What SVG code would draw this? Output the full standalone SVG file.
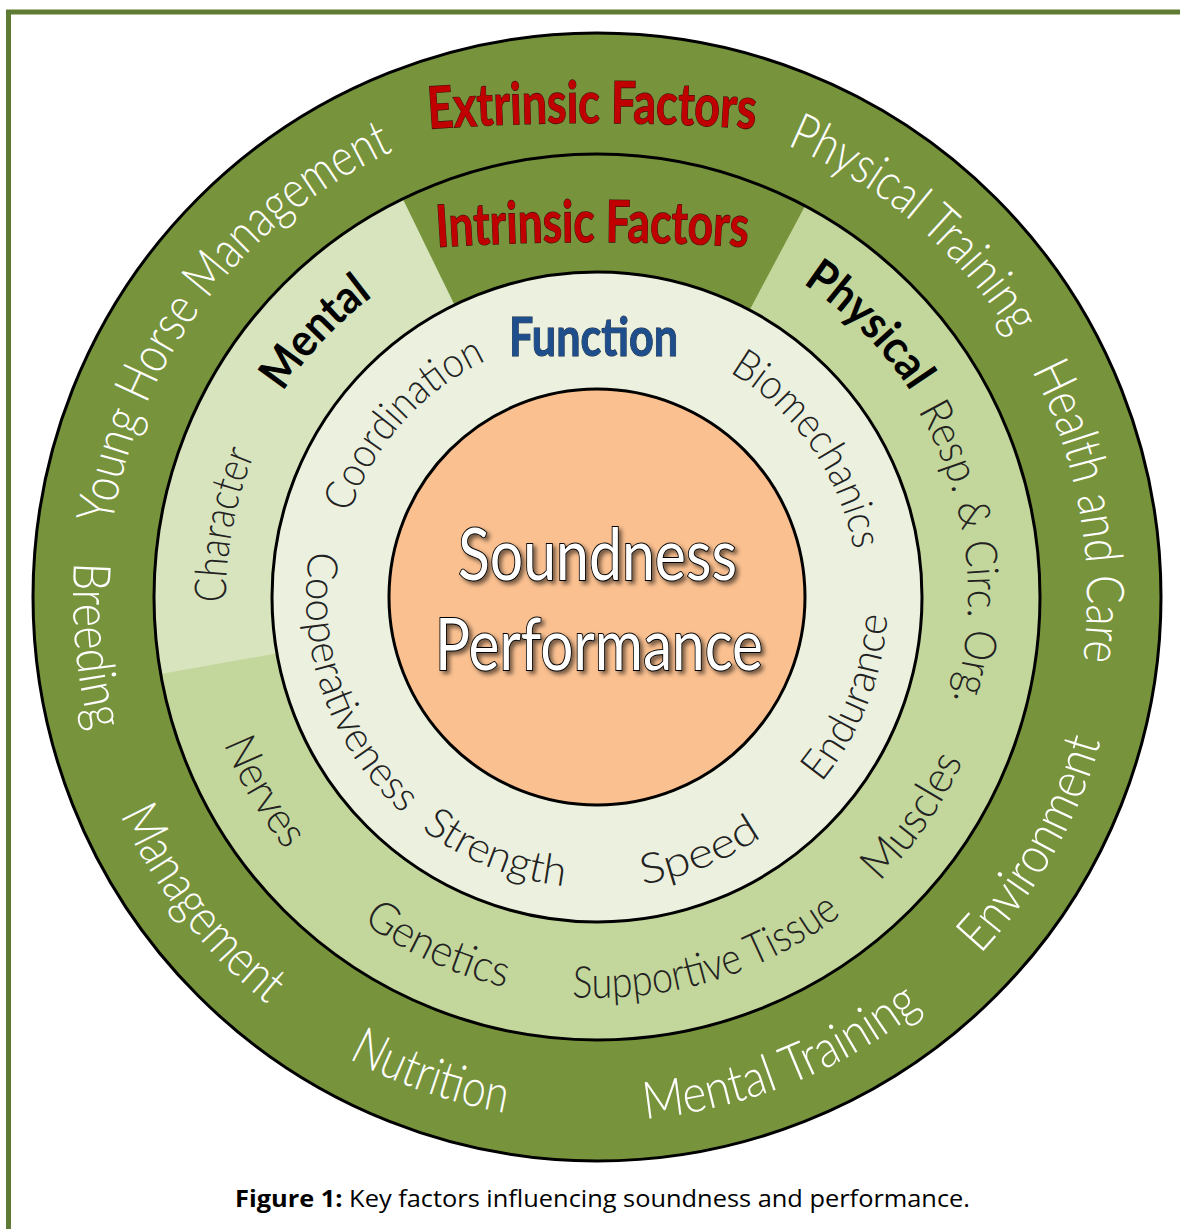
<svg xmlns="http://www.w3.org/2000/svg" xmlns:xlink="http://www.w3.org/1999/xlink" width="1180" height="1229" viewBox="0 0 1180 1229">
<style>
.ring{stroke:#000;stroke-width:3}
.outer{font-family:Lato,"Open Sans","DejaVu Sans",sans-serif;font-weight:300;font-size:52px;fill:#ffffff}
.thin{font-family:Lato,"Open Sans","DejaVu Sans",sans-serif;font-weight:300;font-size:44px;fill:#222222}
.fn{font-family:Lato,"Open Sans","DejaVu Sans",sans-serif;font-weight:300;font-size:42px;fill:#222222}
.bold{font-family:Lato,"Open Sans","DejaVu Sans",sans-serif;font-weight:700;font-size:46px;fill:#000000}
.title{font-family:Lato,"Open Sans","DejaVu Sans",sans-serif;font-weight:700;font-size:58px;fill:#c00000;stroke:#3a0c0c;stroke-width:1.2;paint-order:stroke}
.core{font-family:Lato,"Open Sans","DejaVu Sans",sans-serif;font-weight:400;font-size:72px;fill:#ffffff;stroke:#000;stroke-width:2;paint-order:stroke;filter:url(#sh)}
.cap{font-family:"Open Sans","Liberation Sans",sans-serif;font-size:23px;fill:#000}
</style>
<defs>
<filter id="sh" x="-10%" y="-20%" width="130%" height="150%"><feDropShadow dx="3" dy="3" stdDeviation="2" flood-color="#000" flood-opacity="0.55"/></filter>
<path id="t490" d="M108.86,554.29 A490,490 0 0 1 1085.14,554.29"/>
<path id="b524" d="M74.99,642.67 A524,524 0 0 0 1119.01,642.67"/>
<path id="t371" d="M227.41,564.66 A371,371 0 0 1 966.59,564.66"/>
<path id="t375" d="M223.43,564.32 A375,375 0 0 1 970.57,564.32"/>
<path id="b401" d="M197.53,631.95 A401,401 0 0 0 996.47,631.95"/>
<path id="t261" d="M336.99,574.25 A261,261 0 0 1 857.01,574.25"/>
<path id="b291" d="M307.11,622.36 A291,291 0 0 0 886.89,622.36"/>
<path id="extArc" d="M380,133 A2241,2241 0 0 1 804,133"/>
<path id="intArc" d="M392,250.4 A2400,2400 0 0 1 793,250.4"/>
</defs>
<rect x="0" y="0" width="1180" height="1229" fill="#ffffff"/>
<rect id="frame" x="8.5" y="12" width="1200" height="1260" fill="none" stroke="#5f7a32" stroke-width="5"/>

<g id="extrinsic-ring">
<circle class="ring" cx="597" cy="597" r="564" fill="#77933c"/>
</g>
<g id="intrinsic-ring">
<circle cx="597" cy="597" r="443" fill="#c3d69b"/>
<path d="M597,597 L160.7,673.9 A443,443 0 0 1 402.8,198.8 Z" fill="#d7e4bd"/>
<path d="M597,597 L402.8,198.8 A443,443 0 0 1 805,205.9 Z" fill="#77933c"/>
<circle class="ring" cx="597" cy="597" r="443" fill="none"/>
</g>
<g id="function-ring">
<circle class="ring" cx="597" cy="597" r="325" fill="#ebf1de"/>
</g>
<g id="core">
<circle class="ring" cx="597" cy="597" r="208" fill="#fac090"/>
<text class="core" x="597.5" y="580" text-anchor="middle" textLength="279" lengthAdjust="spacingAndGlyphs">Soundness</text>
<text class="core" x="599" y="670" text-anchor="middle" textLength="328" lengthAdjust="spacingAndGlyphs">Performance</text>
</g>

<g id="extrinsic-labels">
<text class="title"><textPath href="#extArc" xlink:href="#extArc" startOffset="50%" text-anchor="middle" textLength="327" lengthAdjust="spacingAndGlyphs">Extrinsic Factors</textPath></text>
<text class="outer" transform="rotate(-53 597 597)"><textPath href="#t490" xlink:href="#t490" startOffset="50%" text-anchor="middle" textLength="487" lengthAdjust="spacingAndGlyphs">Young Horse Management</textPath></text>
<text class="outer" transform="rotate(40.3 597 597)"><textPath href="#t490" xlink:href="#t490" startOffset="50%" text-anchor="middle" textLength="300" lengthAdjust="spacingAndGlyphs">Physical Training</textPath></text>
<text class="outer" transform="rotate(80 597 597)"><textPath href="#t490" xlink:href="#t490" startOffset="50%" text-anchor="middle" textLength="300" lengthAdjust="spacingAndGlyphs">Health and Care</textPath></text>
<text class="outer" transform="rotate(-60.5 597 597)"><textPath href="#b524" xlink:href="#b524" startOffset="50%" text-anchor="middle" textLength="247" lengthAdjust="spacingAndGlyphs">Environment</textPath></text>
<text class="outer" transform="rotate(-21.8 597 597)"><textPath href="#b524" xlink:href="#b524" startOffset="50%" text-anchor="middle" textLength="303" lengthAdjust="spacingAndGlyphs">Mental Training</textPath></text>
<text class="outer" transform="rotate(19.2 597 597)"><textPath href="#b524" xlink:href="#b524" startOffset="50%" text-anchor="middle" textLength="167" lengthAdjust="spacingAndGlyphs">Nutrition</textPath></text>
<text class="outer" transform="rotate(52.2 597 597)"><textPath href="#b524" xlink:href="#b524" startOffset="50%" text-anchor="middle" textLength="242" lengthAdjust="spacingAndGlyphs">Management</textPath></text>
<text class="outer" transform="rotate(84.5 597 597)"><textPath href="#b524" xlink:href="#b524" startOffset="50%" text-anchor="middle" textLength="171" lengthAdjust="spacingAndGlyphs">Breeding</textPath></text>
</g>

<g id="intrinsic-labels">
<text class="title"><textPath href="#intArc" xlink:href="#intArc" startOffset="50%" text-anchor="middle" textLength="311" lengthAdjust="spacingAndGlyphs">Intrinsic Factors</textPath></text>
<text class="bold" transform="rotate(-46.8 597 597)"><textPath href="#t375" xlink:href="#t375" startOffset="50%" text-anchor="middle" textLength="132" lengthAdjust="spacingAndGlyphs">Mental</textPath></text>
<text class="bold" transform="rotate(45 597 597)"><textPath href="#t375" xlink:href="#t375" startOffset="50%" text-anchor="middle" textLength="154" lengthAdjust="spacingAndGlyphs">Physical</textPath></text>
<text class="thin" transform="rotate(-79.1 597 597)"><textPath href="#t371" xlink:href="#t371" startOffset="50%" text-anchor="middle" textLength="152" lengthAdjust="spacingAndGlyphs">Character</textPath></text>
<text class="thin" transform="rotate(83 597 597)"><textPath href="#t371" xlink:href="#t371" startOffset="50%" text-anchor="middle" textLength="300" lengthAdjust="spacingAndGlyphs">Resp. &amp; Circ. Org.</textPath></text>
<text class="thin" transform="rotate(59.7 597 597)"><textPath href="#b401" xlink:href="#b401" startOffset="50%" text-anchor="middle" textLength="124" lengthAdjust="spacingAndGlyphs">Nerves</textPath></text>
<text class="thin" transform="rotate(24.5 597 597)"><textPath href="#b401" xlink:href="#b401" startOffset="50%" text-anchor="middle" textLength="158" lengthAdjust="spacingAndGlyphs">Genetics</textPath></text>
<text class="thin" transform="rotate(-17 597 597)"><textPath href="#b401" xlink:href="#b401" startOffset="50%" text-anchor="middle" textLength="288" lengthAdjust="spacingAndGlyphs">Supportive Tissue</textPath></text>
<text class="thin" transform="rotate(-55.3 597 597)"><textPath href="#b401" xlink:href="#b401" startOffset="50%" text-anchor="middle" textLength="148" lengthAdjust="spacingAndGlyphs">Muscles</textPath></text>
</g>

<g id="function-labels">
<text x="593.5" y="356" text-anchor="middle" textLength="169" lengthAdjust="spacingAndGlyphs" style="font-family:Lato,'Open Sans','DejaVu Sans',sans-serif;font-weight:700;font-size:54px;fill:#1f4e8c;stroke:#0e1f38;stroke-width:1;paint-order:stroke">Function</text>
<text class="fn" transform="rotate(-48.2 597 597)"><textPath href="#t261" xlink:href="#t261" startOffset="50%" text-anchor="middle" textLength="210" lengthAdjust="spacingAndGlyphs">Coordination</textPath></text>
<text class="fn" transform="rotate(55 597 597)"><textPath href="#t261" xlink:href="#t261" startOffset="50%" text-anchor="middle" textLength="224" lengthAdjust="spacingAndGlyphs">Biomechanics</textPath></text>
<text class="fn" transform="rotate(70.5 597 597)"><textPath href="#b291" xlink:href="#b291" startOffset="50%" text-anchor="middle" textLength="291" lengthAdjust="spacingAndGlyphs">Cooperativeness</textPath></text>
<text class="fn" transform="rotate(21.8 597 597)"><textPath href="#b291" xlink:href="#b291" startOffset="50%" text-anchor="middle" textLength="156" lengthAdjust="spacingAndGlyphs">Strength</textPath></text>
<text class="fn" transform="rotate(-21.8 597 597)"><textPath href="#b291" xlink:href="#b291" startOffset="50%" text-anchor="middle" textLength="130" lengthAdjust="spacingAndGlyphs">Speed</textPath></text>
<text class="fn" transform="rotate(-68.4 597 597)"><textPath href="#b291" xlink:href="#b291" startOffset="50%" text-anchor="middle" textLength="183" lengthAdjust="spacingAndGlyphs">Endurance</textPath></text>
</g>

<g id="caption">
<text class="cap" x="235" y="1207" textLength="735" lengthAdjust="spacingAndGlyphs"><tspan font-weight="700">Figure 1:</tspan> Key factors influencing soundness and performance.</text>
</g>
</svg>
